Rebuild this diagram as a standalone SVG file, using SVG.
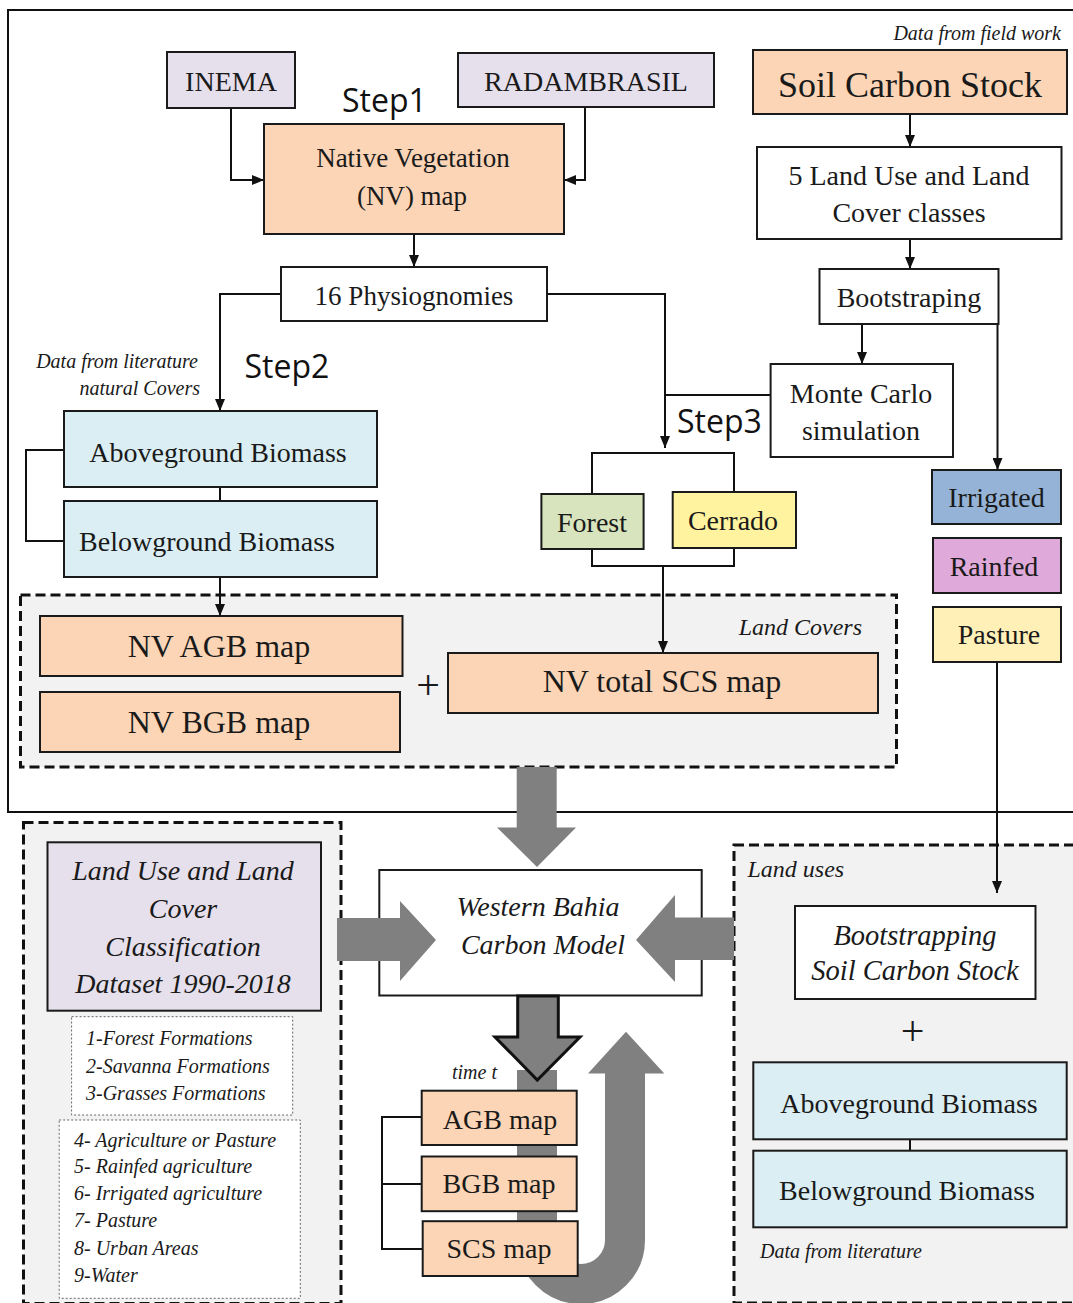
<svg xmlns="http://www.w3.org/2000/svg" width="1073" height="1303" viewBox="0 0 1073 1303">
<defs>
<style>
.box{stroke:#1a1a1a;stroke-width:2}
.t{font-family:"Liberation Serif",serif;fill:#1a1a1a;text-anchor:middle}
.it{font-family:"Liberation Serif",serif;font-style:italic;fill:#1a1a1a}
.st{font-family:"Open Sans",sans-serif;fill:#111}
.c{fill:none;stroke:#111;stroke-width:2}
.dash{fill:#F2F2F2;stroke:#111;stroke-width:3;stroke-dasharray:10 5}
.dot{fill:#fff;stroke:#666;stroke-width:1;stroke-dasharray:2 2}
.gray{fill:#808080}
.lil{fill:#E6E0EC}
.pea{fill:#FBD5B6}
.blu{fill:#DAEEF3}
</style>
<marker id="ah" markerWidth="12" markerHeight="10" refX="12" refY="5" orient="auto" markerUnits="userSpaceOnUse"><path d="M0,0 L12,5 L0,10 z" fill="#111"/></marker>
</defs>
<rect x="0" y="0" width="1073" height="1303" fill="#fff"/>
<rect x="8" y="10" width="1070" height="802" fill="none" stroke="#111" stroke-width="2"/>

<g id="landcovers-group"><rect class="dash" x="20.5" y="595" width="876" height="172"/>
<text class="it" x="862" y="635" font-size="24" text-anchor="end">Land Covers</text></g>
<g id="lulc-group"><rect class="dash" x="23.5" y="822.5" width="317.5" height="481"/></g>
<g id="landuses-group"><rect class="dash" x="734" y="845" width="345" height="458"/>
<text class="it" x="747.5" y="877" font-size="24">Land uses</text></g>

<g id="model"><rect class="box" fill="#fff" x="379.3" y="870" width="322.4" height="125.5"/>
<text class="it" x="538" y="916" font-size="28" text-anchor="middle">Western Bahia</text>
<text class="it" x="543" y="954" font-size="28" text-anchor="middle">Carbon Model</text></g>

<g id="connectors">
<path class="c" d="M231,108 V180 H264" marker-end="url(#ah)"/>
<path class="c" d="M585,107 V180 H564" marker-end="url(#ah)"/>
<path class="c" d="M414,234 V267" marker-end="url(#ah)"/>
<path class="c" d="M281,294 H220 V411" marker-end="url(#ah)"/>
<path class="c" d="M547,294 H665 V448" marker-end="url(#ah)"/>
<path class="c" d="M770.6,395 H665"/>
<path class="c" d="M910,114 V147" marker-end="url(#ah)"/>
<path class="c" d="M910,239 V269" marker-end="url(#ah)"/>
<path class="c" d="M862,324 V364" marker-end="url(#ah)"/>
<path class="c" d="M997.5,324 V470" marker-end="url(#ah)"/>
<path class="c" d="M592,494 V453 H734 V492"/>
<path class="c" d="M592,549 V566 H734 V548"/>
<path class="c" d="M663,566 V653" marker-end="url(#ah)"/>
<path class="c" d="M220,487 V501"/>
<path class="c" d="M64,450 H26 V541 H64"/>
<path class="c" d="M220,577 V616" marker-end="url(#ah)"/>
<path class="c" d="M997,662 V893" marker-end="url(#ah)"/>
<path class="c" d="M910,1139 V1151"/>
<path class="c" d="M422,1117 H382 V1249 H423 M382,1184 H422"/>
<path class="gray" d="M516.7,767 H556.7 V827.5 H576 L537,867 L497,827.5 H516.7 Z"/>
<path class="gray" d="M337,918 H400 V901 L436,940 L400,981 V961 H337 Z"/>
<path class="gray" d="M734,917.5 H675 V895 L636,940 L675,982 V960 H734 Z"/>
<path d="M537,1070 V1240 A44,44 0 0 0 625,1240 V1072" fill="none" stroke="#808080" stroke-width="40"/>
<path class="gray" d="M588,1073.4 H664.3 L626,1031.8 Z"/>
<path class="gray" d="M517.7,996 H558.3 V1037 H580 L537.3,1080 L495,1037 H517.7 Z" stroke="#111" stroke-width="3" stroke-linejoin="miter"/>
</g>

<g id="inema"><rect class="box lil" x="167" y="52" width="128" height="56"/><text class="t" x="231" y="91" font-size="28">INEMA</text></g>
<g id="radambrasil"><rect class="box lil" x="458" y="53" width="256" height="54"/><text class="t" x="586" y="91" font-size="28">RADAMBRASIL</text></g>
<g id="step1"><text class="st" x="342" y="112" font-size="32">Step1</text></g>
<g id="nv-map"><rect class="box pea" x="264" y="124" width="300" height="110"/><text class="t" x="413" y="167" font-size="27">Native Vegetation</text><text class="t" x="412" y="205" font-size="27">(NV)  map</text></g>
<g id="physiognomies"><rect class="box" fill="#fff" x="281" y="267" width="266" height="54"/><text class="t" x="414" y="305" font-size="27">16 Physiognomies</text></g>
<g id="step2"><text class="st" x="244.5" y="378" font-size="32">Step2</text></g>
<g id="lit-label"><text class="it" x="198" y="368" font-size="20" text-anchor="end">Data from literature</text><text class="it" x="200" y="395" font-size="20" text-anchor="end">natural Covers</text></g>
<g id="agb-left"><rect class="box blu" x="64" y="411" width="313" height="76"/><text class="t" x="218" y="462" font-size="28">Aboveground Biomass</text></g>
<g id="bgb-left"><rect class="box blu" x="64" y="501" width="313" height="76"/><text class="t" x="207" y="551" font-size="28">Belowground Biomass</text></g>
<g id="nv-agb"><rect class="box pea" x="40" y="616" width="362.5" height="60"/><text class="t" x="219" y="657" font-size="32">NV AGB map</text></g>
<g id="nv-bgb"><rect class="box pea" x="40" y="692" width="360" height="60"/><text class="t" x="219" y="733" font-size="32">NV BGB map</text></g>
<g id="plus1"><text class="t" x="428" y="699" font-size="42">+</text></g>
<g id="nv-scs"><rect class="box pea" x="448" y="653" width="430" height="60"/><text class="t" x="662" y="692" font-size="32">NV total SCS map</text></g>
<g id="field-label"><text class="it" x="1061" y="40" font-size="20" text-anchor="end">Data from field work</text></g>
<g id="scs"><rect class="box pea" x="753" y="50" width="314" height="64"/><text class="t" x="910" y="97" font-size="36">Soil Carbon Stock</text></g>
<g id="lulc5"><rect class="box" fill="#fff" x="757" y="147" width="304.5" height="92"/><text class="t" x="909" y="185" font-size="28">5 Land Use and Land</text><text class="t" x="909" y="222" font-size="28">Cover classes</text></g>
<g id="bootstraping"><rect class="box" fill="#fff" x="819.5" y="269" width="179" height="55"/><text class="t" x="909" y="307" font-size="28">Bootstraping</text></g>
<g id="montecarlo"><rect class="box" fill="#fff" x="770.6" y="364" width="182.4" height="93"/><text class="t" x="861" y="403" font-size="28">Monte Carlo</text><text class="t" x="861" y="440" font-size="28">simulation</text></g>
<g id="step3"><text class="st" x="677" y="433" font-size="32">Step3</text></g>
<g id="forest"><rect class="box" fill="#D7E4BD" x="541.4" y="494" width="102.2" height="55"/><text class="t" x="592" y="532" font-size="28">Forest</text></g>
<g id="cerrado"><rect class="box" fill="#FFF3A0" x="672.7" y="492" width="123.3" height="56"/><text class="t" x="733" y="530" font-size="28">Cerrado</text></g>
<g id="irrigated"><rect class="box" fill="#95B3D7" x="932" y="470" width="129" height="54"/><text class="t" x="996.5" y="507" font-size="28">Irrigated</text></g>
<g id="rainfed"><rect class="box" fill="#DFA9D9" x="933" y="538" width="128" height="55"/><text class="t" x="994" y="576" font-size="28">Rainfed</text></g>
<g id="pasture"><rect class="box" fill="#FFF0B8" x="933" y="607" width="128" height="55"/><text class="t" x="999" y="644" font-size="28">Pasture</text></g>

<g id="lulc-dataset"><rect class="box lil" x="47.5" y="842.3" width="273.5" height="168.4"/>
<text class="it" x="183" y="880" font-size="28" text-anchor="middle">Land Use and Land</text>
<text class="it" x="183" y="918" font-size="28" text-anchor="middle">Cover</text>
<text class="it" x="183" y="956" font-size="28" text-anchor="middle">Classification</text>
<text class="it" x="183" y="993" font-size="28" text-anchor="middle">Dataset 1990-2018</text></g>
<g id="classes-natural"><rect class="dot" x="71.6" y="1016.7" width="221.1" height="98.3"/>
<text class="it" x="86" y="1045" font-size="20">1-Forest Formations</text>
<text class="it" x="86" y="1073" font-size="20">2-Savanna Formations</text>
<text class="it" x="86" y="1100" font-size="20">3-Grasses Formations</text></g>
<g id="classes-anthropic"><rect class="dot" x="59.2" y="1120" width="241.1" height="178.3"/>
<text class="it" x="74" y="1147" font-size="20">4- Agriculture or Pasture</text>
<text class="it" x="74" y="1173" font-size="20">5- Rainfed agriculture</text>
<text class="it" x="74" y="1200" font-size="20">6- Irrigated agriculture</text>
<text class="it" x="74" y="1227" font-size="20">7- Pasture</text>
<text class="it" x="74" y="1255" font-size="20">8- Urban Areas</text>
<text class="it" x="74" y="1282" font-size="20">9-Water</text></g>

<g id="timet"><text class="it" x="452" y="1079" font-size="20">time t</text></g>
<g id="agb-map"><rect class="box pea" x="421.7" y="1090.7" width="155" height="54.3"/><text class="t" x="500" y="1129" font-size="28">AGB map</text></g>
<g id="bgb-map"><rect class="box pea" x="421.7" y="1156.5" width="155" height="54.7"/><text class="t" x="499" y="1193" font-size="28">BGB map</text></g>
<g id="scs-map"><rect class="box pea" x="422.7" y="1221.2" width="155" height="54.8"/><text class="t" x="499" y="1258" font-size="28">SCS map</text></g>

<g id="boot-scs"><rect class="box" fill="#fff" x="795" y="906" width="240.5" height="93"/>
<text class="it" x="915" y="945" font-size="28.5" text-anchor="middle">Bootstrapping</text>
<text class="it" x="915" y="980" font-size="28.5" text-anchor="middle">Soil Carbon Stock</text></g>
<g id="plus2"><text class="t" x="912.6" y="1045" font-size="42">+</text></g>
<g id="agb-right"><rect class="box blu" x="753.3" y="1062.3" width="313.4" height="77"/><text class="t" x="909" y="1113" font-size="28">Aboveground Biomass</text></g>
<g id="bgb-right"><rect class="box blu" x="753.3" y="1150.7" width="313.4" height="76.6"/><text class="t" x="907" y="1200" font-size="28">Belowground Biomass</text></g>
<g id="lit-label2"><text class="it" x="760" y="1258" font-size="20">Data from literature</text></g>
</svg>
